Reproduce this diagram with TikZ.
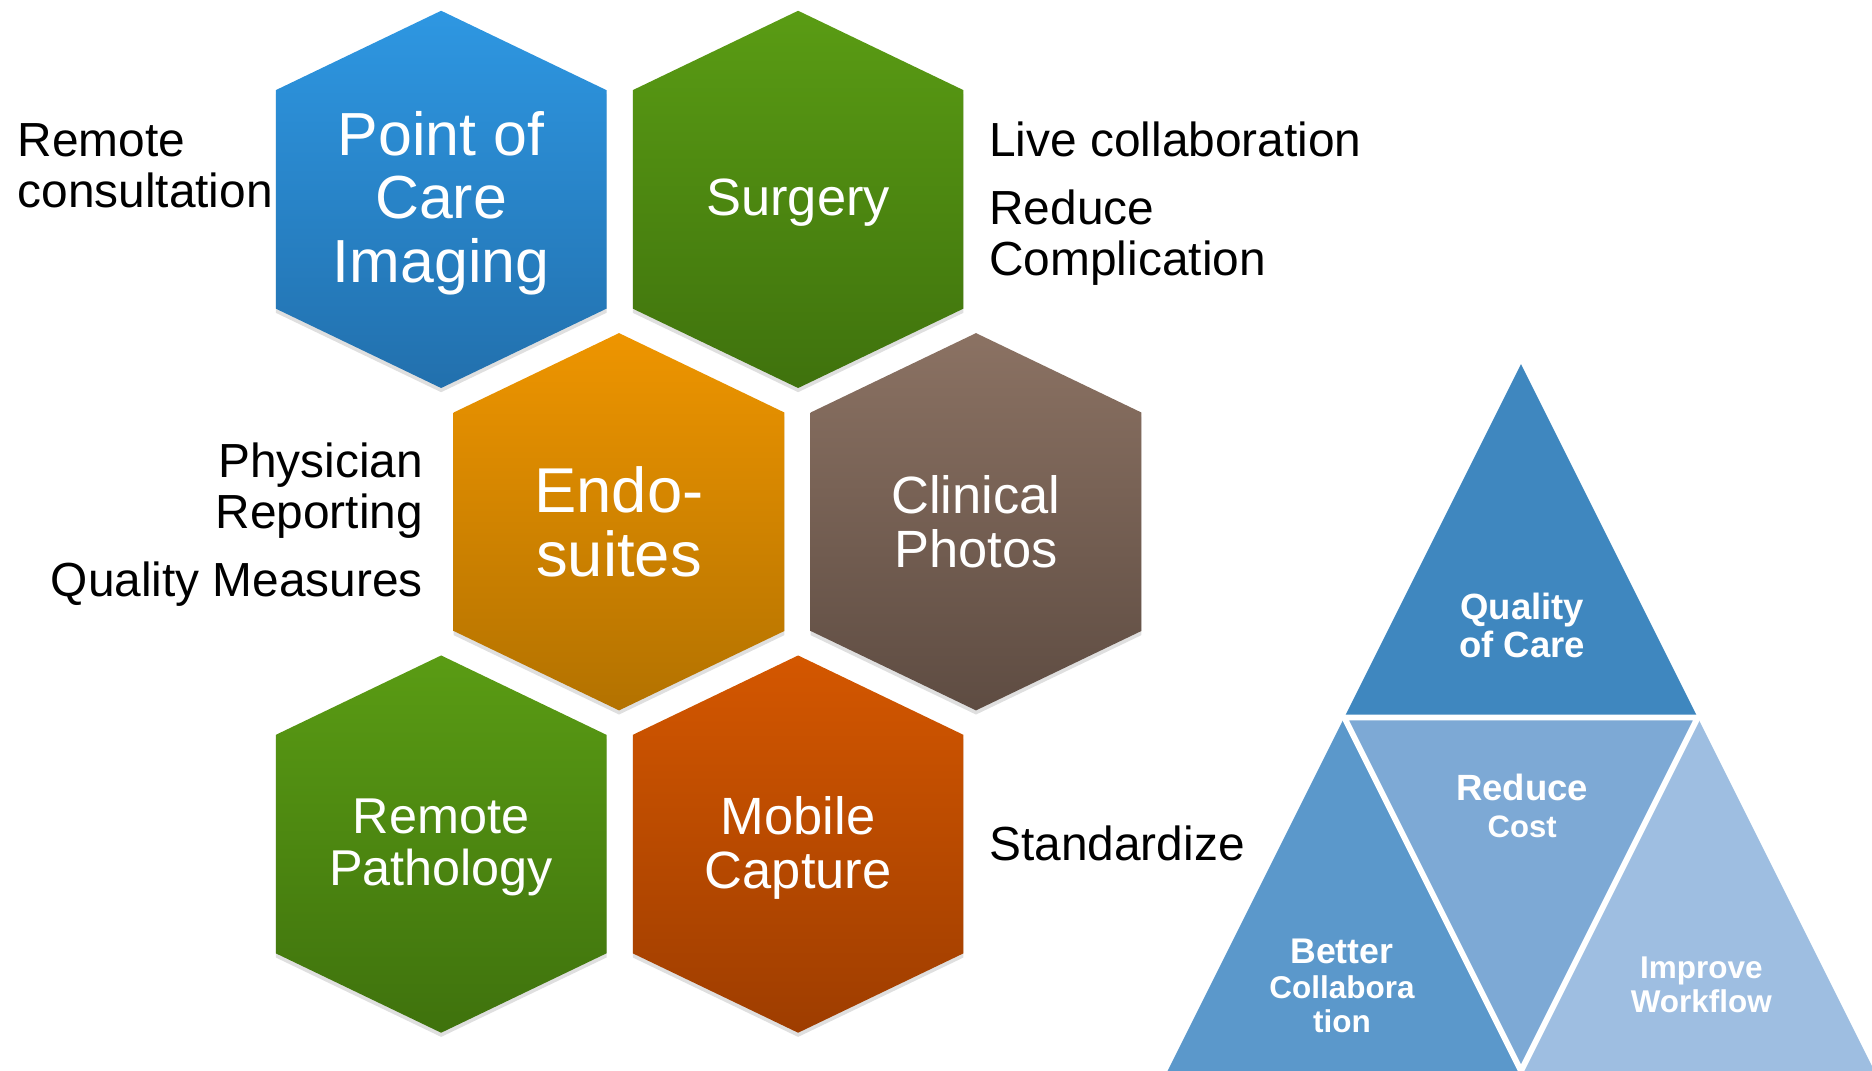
\documentclass[tikz,border=0pt]{standalone}
\usepackage{fontspec}
\setmainfont{Liberation Sans}
\usepackage{tikz}
\usetikzlibrary{backgrounds}
\usetikzlibrary{shadows}
\usetikzlibrary{calc}

\definecolor{pocTop}{HTML}{2E97E2}
\definecolor{pocBot}{HTML}{2270AD}
\definecolor{greenTop}{HTML}{5A9C14}
\definecolor{greenBot}{HTML}{3F720D}
\definecolor{endoTop}{HTML}{EE9500}
\definecolor{endoBot}{HTML}{B37200}
\definecolor{photoTop}{HTML}{8B7263}
\definecolor{photoBot}{HTML}{5E4C42}
\definecolor{mobTop}{HTML}{D45700}
\definecolor{mobBot}{HTML}{9E3D00}
\definecolor{triQuality}{HTML}{3F87BF}
\definecolor{triCollab}{HTML}{5B98CB}
\definecolor{triCost}{HTML}{7DA9D5}
\definecolor{triFlow}{HTML}{9EBEE1}

\begin{document}
\begin{tikzpicture}
    \tikzset{every node/.style={align=center, inner sep=0pt},
            hexagon/.style={insert path={+(0,1.58) -- +(1.385,0.915) -- +(1.385,-0.915) -- +(0,-1.58) -- +(-1.385,-0.915) -- +(-1.385,0.915) -- cycle}},
            hexcell/.style={drop shadow={opacity=0.25, shadow xshift=0pt, shadow yshift=-0.035cm}},
            hexlabel/.style={text=white},
            sidelabel/.style={font=\fontsize{11.4}{12.2}\selectfont},
            trilabel/.style={text=white}}
    \useasboundingbox (0,0) rectangle (15.68,-8.97);

    % hexagons
    \coordinate (c1) at (3.695,-1.67);
    \coordinate (c2) at (6.685,-1.67);
    \coordinate (c3) at (5.185,-4.37);
    \coordinate (c4) at (8.175,-4.37);
    \coordinate (c5) at (3.695,-7.07);
    \coordinate (c6) at (6.685,-7.07);
    \path[hexcell, top color=pocTop, bottom color=pocBot] (c1) [hexagon];
    \path[hexcell, top color=greenTop, bottom color=greenBot] (c2) [hexagon];
    \path[hexcell, top color=endoTop, bottom color=endoBot] (c3) [hexagon];
    \path[hexcell, top color=photoTop, bottom color=photoBot] (c4) [hexagon];
    \path[hexcell, top color=greenTop, bottom color=greenBot] (c5) [hexagon];
    \path[hexcell, top color=mobTop, bottom color=mobBot] (c6) [hexagon];
    \node[hexlabel, font=\fontsize{14.5}{15.1}\selectfont] (poc) at ([yshift=-0.03cm]c1) {Point of\\Care\\Imaging};
    \node[hexlabel, font=\fontsize{12.5}{13}\selectfont] (surgery) at ([yshift=-0.03cm]c2) {Surgery};
    \node[hexlabel, font=\fontsize{15.1}{15.1}\selectfont] (endo) at (c3) {Endo-\\suites};
    \node[hexlabel, font=\fontsize{12.5}{13.1}\selectfont] (photos) at (c4) {Clinical\\Photos};
    \node[hexlabel, font=\fontsize{12}{12.5}\selectfont] (patho) at ([yshift=-0.03cm]c5) {Remote\\Pathology};
    \node[hexlabel, font=\fontsize{12.5}{12.8}\selectfont] (mobile) at ([yshift=-0.03cm]c6) {Mobile\\Capture};

    % side notes
    \node[sidelabel, anchor=west, align=left] (consult) at (0.14,-1.39) {Remote\\consultation};
    \node[sidelabel, anchor=east, align=right] (reporting) at (3.55,-4.11) {Physician\\Reporting};
    \node[sidelabel, anchor=east] (measures) at (3.55,-4.89) {Quality Measures};
    \node[sidelabel, anchor=west] (live) at (8.28,-1.165) {Live collaboration};
    \node[sidelabel, anchor=west, align=left] (complication) at (8.28,-1.99) {Reduce\\Complication};
    \node[sidelabel, anchor=west] (standard) at (8.28,-7.065) {Standardize};

    % triangle
    \coordinate (apex) at (12.74,-3.05);
    \coordinate (bl) at (9.78,-8.97);
    \coordinate (br) at (15.70,-8.97);
    \coordinate (ml) at ($(apex)!0.5!(bl)$);
    \coordinate (mr) at ($(apex)!0.5!(br)$);
    \coordinate (mb) at ($(bl)!0.5!(br)$);
    \fill[triQuality] (apex) -- (ml) -- (mr) -- cycle;
    \fill[triCollab] (ml) -- (bl) -- (mb) -- cycle;
    \fill[triCost] (ml) -- (mr) -- (mb) -- cycle;
    \fill[triFlow] (mr) -- (mb) -- (br) -- cycle;
    \draw[white, line width=1.4pt] (ml) -- (mr) -- (mb) -- cycle;

    \node[trilabel, font=\bfseries\fontsize{8.7}{9.1}\selectfont] (quality) at (12.75,-5.24) {Quality\\of Care};
    \node[trilabel, font=\bfseries\fontsize{8.7}{8.8}\selectfont] (cost) at (12.75,-6.75) {Reduce\\{\fontsize{7.4}{8.8}\selectfont Cost}};
    \node[trilabel, font=\bfseries\fontsize{8.5}{8.2}\selectfont] (collab) at (11.24,-8.26) {Better\\{\fontsize{7.5}{8}\selectfont Collabora}\\{\fontsize{7.5}{8}\selectfont tion}};
    \node[trilabel, font=\bfseries\fontsize{7.5}{8}\selectfont] (flow) at (14.25,-8.25) {Improve\\Workflow};
\end{tikzpicture}
\end{document}
